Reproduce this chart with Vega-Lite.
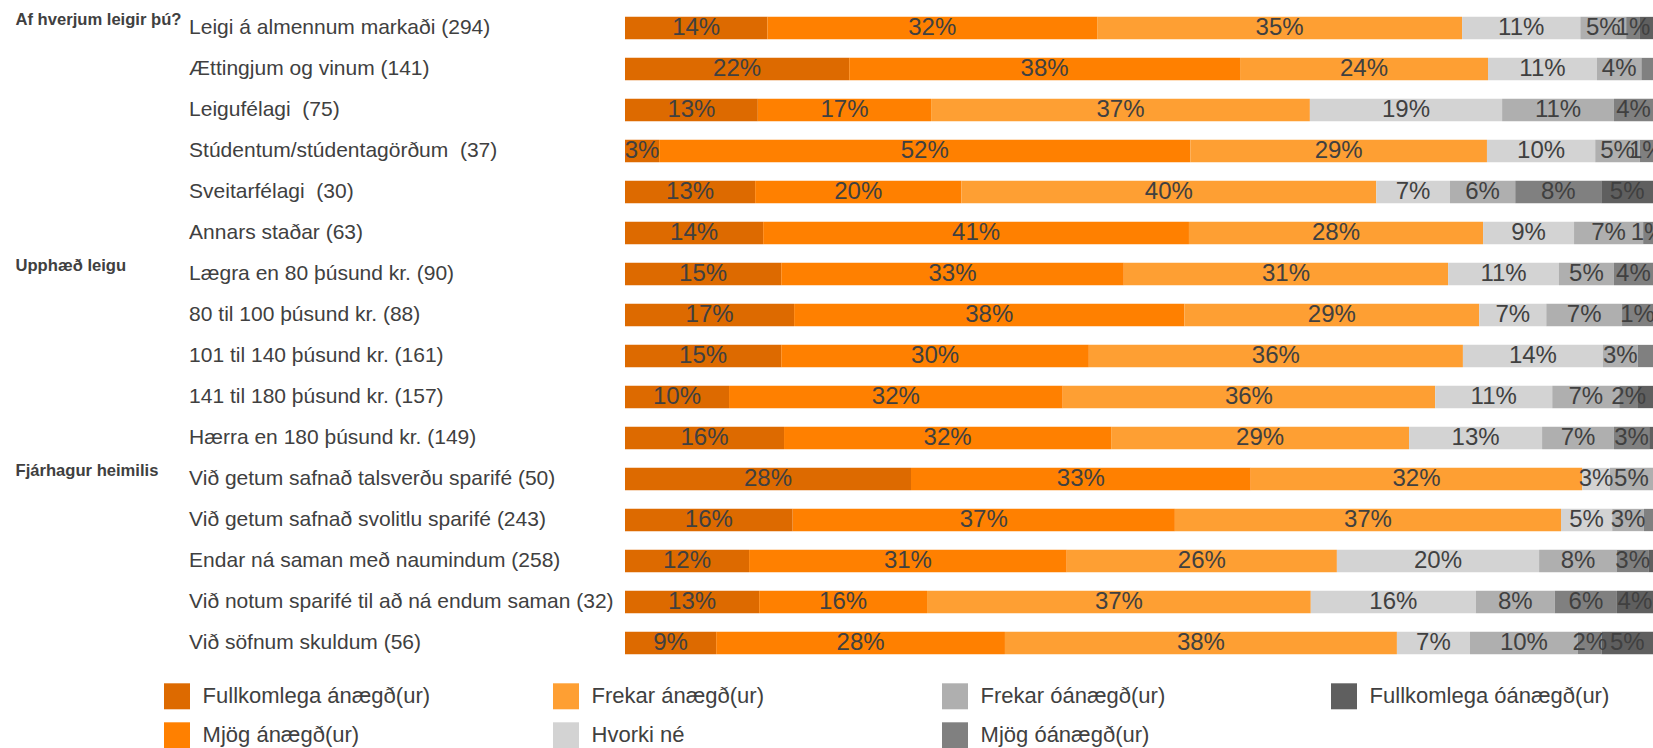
{
  "$schema": "https://vega.github.io/schema/vega-lite/v6.json",
  "width": 1028,
  "height": 656,
  "autosize": {"type": "none"},
  "padding": {"left": 625, "top": 7.5, "right": 0, "bottom": 84.5},
  "background": "white",
  "config": {"view": {"stroke": null}, "font": "Liberation Sans"},
  "data": {"values": [
    {"r": "Leigi á almennum markaði (294)", "c": "Fullkomlega ánægð(ur)", "o": 1, "v": 13.85, "t": "14%"},
    {"r": "Leigi á almennum markaði (294)", "c": "Mjög ánægð(ur)", "o": 2, "v": 32.08, "t": "32%"},
    {"r": "Leigi á almennum markaði (294)", "c": "Frekar ánægð(ur)", "o": 3, "v": 35.5, "t": "35%"},
    {"r": "Leigi á almennum markaði (294)", "c": "Hvorki né", "o": 4, "v": 11.5, "t": "11%"},
    {"r": "Leigi á almennum markaði (294)", "c": "Frekar óánægð(ur)", "o": 5, "v": 4.46, "t": "5%"},
    {"r": "Leigi á almennum markaði (294)", "c": "Mjög óánægð(ur)", "o": 6, "v": 1.34, "t": "1%"},
    {"r": "Leigi á almennum markaði (294)", "c": "Fullkomlega óánægð(ur)", "o": 7, "v": 1.27, "t": ""},

    {"r": "Ættingjum og vinum (141)", "c": "Fullkomlega ánægð(ur)", "o": 1, "v": 21.81, "t": "22%"},
    {"r": "Ættingjum og vinum (141)", "c": "Mjög ánægð(ur)", "o": 2, "v": 38.02, "t": "38%"},
    {"r": "Ættingjum og vinum (141)", "c": "Frekar ánægð(ur)", "o": 3, "v": 24.12, "t": "24%"},
    {"r": "Ættingjum og vinum (141)", "c": "Hvorki né", "o": 4, "v": 10.6, "t": "11%"},
    {"r": "Ættingjum og vinum (141)", "c": "Frekar óánægð(ur)", "o": 5, "v": 4.32, "t": "4%"},
    {"r": "Ættingjum og vinum (141)", "c": "Mjög óánægð(ur)", "o": 6, "v": 1.13, "t": ""},

    {"r": "Leigufélagi \u00a0(75)", "c": "Fullkomlega ánægð(ur)", "o": 1, "v": 12.92, "t": "13%"},
    {"r": "Leigufélagi \u00a0(75)", "c": "Mjög ánægð(ur)", "o": 2, "v": 16.86, "t": "17%"},
    {"r": "Leigufélagi \u00a0(75)", "c": "Frekar ánægð(ur)", "o": 3, "v": 36.85, "t": "37%"},
    {"r": "Leigufélagi \u00a0(75)", "c": "Hvorki né", "o": 4, "v": 18.7, "t": "19%"},
    {"r": "Leigufélagi \u00a0(75)", "c": "Frekar óánægð(ur)", "o": 5, "v": 10.88, "t": "11%"},
    {"r": "Leigufélagi \u00a0(75)", "c": "Mjög óánægð(ur)", "o": 6, "v": 3.8, "t": "4%"},

    {"r": "Stúdentum/stúdentagörðum \u00a0(37)", "c": "Fullkomlega ánægð(ur)", "o": 1, "v": 3.32, "t": "3%"},
    {"r": "Stúdentum/stúdentagörðum \u00a0(37)", "c": "Mjög ánægð(ur)", "o": 2, "v": 51.67, "t": "52%"},
    {"r": "Stúdentum/stúdentagörðum \u00a0(37)", "c": "Frekar ánægð(ur)", "o": 3, "v": 28.85, "t": "29%"},
    {"r": "Stúdentum/stúdentagörðum \u00a0(37)", "c": "Hvorki né", "o": 4, "v": 10.53, "t": "10%"},
    {"r": "Stúdentum/stúdentagörðum \u00a0(37)", "c": "Frekar óánægð(ur)", "o": 5, "v": 4.33, "t": "5%"},
    {"r": "Stúdentum/stúdentagörðum \u00a0(37)", "c": "Mjög óánægð(ur)", "o": 6, "v": 1.29, "t": "1%"},

    {"r": "Sveitarfélagi \u00a0(30)", "c": "Fullkomlega ánægð(ur)", "o": 1, "v": 12.66, "t": "13%"},
    {"r": "Sveitarfélagi \u00a0(30)", "c": "Mjög ánægð(ur)", "o": 2, "v": 20.06, "t": "20%"},
    {"r": "Sveitarfélagi \u00a0(30)", "c": "Frekar ánægð(ur)", "o": 3, "v": 40.36, "t": "40%"},
    {"r": "Sveitarfélagi \u00a0(30)", "c": "Hvorki né", "o": 4, "v": 7.17, "t": "7%"},
    {"r": "Sveitarfélagi \u00a0(30)", "c": "Frekar óánægð(ur)", "o": 5, "v": 6.35, "t": "6%"},
    {"r": "Sveitarfélagi \u00a0(30)", "c": "Mjög óánægð(ur)", "o": 6, "v": 8.37, "t": "8%"},
    {"r": "Sveitarfélagi \u00a0(30)", "c": "Fullkomlega óánægð(ur)", "o": 7, "v": 5.03, "t": "5%"},

    {"r": "Annars staðar (63)", "c": "Fullkomlega ánægð(ur)", "o": 1, "v": 13.44, "t": "14%"},
    {"r": "Annars staðar (63)", "c": "Mjög ánægð(ur)", "o": 2, "v": 41.42, "t": "41%"},
    {"r": "Annars staðar (63)", "c": "Frekar ánægð(ur)", "o": 3, "v": 28.61, "t": "28%"},
    {"r": "Annars staðar (63)", "c": "Hvorki né", "o": 4, "v": 8.85, "t": "9%"},
    {"r": "Annars staðar (63)", "c": "Frekar óánægð(ur)", "o": 5, "v": 6.72, "t": "7%"},
    {"r": "Annars staðar (63)", "c": "Mjög óánægð(ur)", "o": 6, "v": 0.96, "t": "1%"},

    {"r": "Lægra en 80 þúsund kr. (90)", "c": "Fullkomlega ánægð(ur)", "o": 1, "v": 15.2, "t": "15%"},
    {"r": "Lægra en 80 þúsund kr. (90)", "c": "Mjög ánægð(ur)", "o": 2, "v": 33.32, "t": "33%"},
    {"r": "Lægra en 80 þúsund kr. (90)", "c": "Frekar ánægð(ur)", "o": 3, "v": 31.55, "t": "31%"},
    {"r": "Lægra en 80 þúsund kr. (90)", "c": "Hvorki né", "o": 4, "v": 10.78, "t": "11%"},
    {"r": "Lægra en 80 þúsund kr. (90)", "c": "Frekar óánægð(ur)", "o": 5, "v": 5.35, "t": "5%"},
    {"r": "Lægra en 80 þúsund kr. (90)", "c": "Mjög óánægð(ur)", "o": 6, "v": 3.8, "t": "4%"},

    {"r": "80 til 100 þúsund kr. (88)", "c": "Fullkomlega ánægð(ur)", "o": 1, "v": 16.45, "t": "17%"},
    {"r": "80 til 100 þúsund kr. (88)", "c": "Mjög ánægð(ur)", "o": 2, "v": 37.96, "t": "38%"},
    {"r": "80 til 100 þúsund kr. (88)", "c": "Frekar ánægð(ur)", "o": 3, "v": 28.69, "t": "29%"},
    {"r": "80 til 100 þúsund kr. (88)", "c": "Hvorki né", "o": 4, "v": 6.52, "t": "7%"},
    {"r": "80 til 100 þúsund kr. (88)", "c": "Frekar óánægð(ur)", "o": 5, "v": 7.37, "t": "7%"},
    {"r": "80 til 100 þúsund kr. (88)", "c": "Mjög óánægð(ur)", "o": 6, "v": 3.01, "t": "1%"},

    {"r": "101 til 140 þúsund kr. (161)", "c": "Fullkomlega ánægð(ur)", "o": 1, "v": 15.2, "t": "15%"},
    {"r": "101 til 140 þúsund kr. (161)", "c": "Mjög ánægð(ur)", "o": 2, "v": 29.92, "t": "30%"},
    {"r": "101 til 140 þúsund kr. (161)", "c": "Frekar ánægð(ur)", "o": 3, "v": 36.39, "t": "36%"},
    {"r": "101 til 140 þúsund kr. (161)", "c": "Hvorki né", "o": 4, "v": 13.62, "t": "14%"},
    {"r": "101 til 140 þúsund kr. (161)", "c": "Frekar óánægð(ur)", "o": 5, "v": 3.39, "t": "3%"},
    {"r": "101 til 140 þúsund kr. (161)", "c": "Mjög óánægð(ur)", "o": 6, "v": 1.48, "t": ""},

    {"r": "141 til 180 þúsund kr. (157)", "c": "Fullkomlega ánægð(ur)", "o": 1, "v": 10.12, "t": "10%"},
    {"r": "141 til 180 þúsund kr. (157)", "c": "Mjög ánægð(ur)", "o": 2, "v": 32.46, "t": "32%"},
    {"r": "141 til 180 þúsund kr. (157)", "c": "Frekar ánægð(ur)", "o": 3, "v": 36.23, "t": "36%"},
    {"r": "141 til 180 þúsund kr. (157)", "c": "Hvorki né", "o": 4, "v": 11.39, "t": "11%"},
    {"r": "141 til 180 þúsund kr. (157)", "c": "Frekar óánægð(ur)", "o": 5, "v": 6.52, "t": "7%"},
    {"r": "141 til 180 þúsund kr. (157)", "c": "Mjög óánægð(ur)", "o": 6, "v": 1.82, "t": "2%"},
    {"r": "141 til 180 þúsund kr. (157)", "c": "Fullkomlega óánægð(ur)", "o": 7, "v": 1.46, "t": ""},

    {"r": "Hærra en 180 þúsund kr. (149)", "c": "Fullkomlega ánægð(ur)", "o": 1, "v": 15.47, "t": "16%"},
    {"r": "Hærra en 180 þúsund kr. (149)", "c": "Mjög ánægð(ur)", "o": 2, "v": 31.82, "t": "32%"},
    {"r": "Hærra en 180 þúsund kr. (149)", "c": "Frekar ánægð(ur)", "o": 3, "v": 28.98, "t": "29%"},
    {"r": "Hærra en 180 þúsund kr. (149)", "c": "Hvorki né", "o": 4, "v": 12.94, "t": "13%"},
    {"r": "Hærra en 180 þúsund kr. (149)", "c": "Frekar óánægð(ur)", "o": 5, "v": 6.99, "t": "7%"},
    {"r": "Hærra en 180 þúsund kr. (149)", "c": "Mjög óánægð(ur)", "o": 6, "v": 3.43, "t": "3%"},
    {"r": "Hærra en 180 þúsund kr. (149)", "c": "Fullkomlega óánægð(ur)", "o": 7, "v": 0.37, "t": ""},

    {"r": "Við getum safnað talsverðu sparifé (50)", "c": "Fullkomlega ánægð(ur)", "o": 1, "v": 27.82, "t": "28%"},
    {"r": "Við getum safnað talsverðu sparifé (50)", "c": "Mjög ánægð(ur)", "o": 2, "v": 33.05, "t": "33%"},
    {"r": "Við getum safnað talsverðu sparifé (50)", "c": "Frekar ánægð(ur)", "o": 3, "v": 32.24, "t": "32%"},
    {"r": "Við getum safnað talsverðu sparifé (50)", "c": "Hvorki né", "o": 4, "v": 2.7, "t": "3%"},
    {"r": "Við getum safnað talsverðu sparifé (50)", "c": "Frekar óánægð(ur)", "o": 5, "v": 4.19, "t": "5%"},

    {"r": "Við getum safnað svolitlu sparifé (243)", "c": "Fullkomlega ánægð(ur)", "o": 1, "v": 16.31, "t": "16%"},
    {"r": "Við getum safnað svolitlu sparifé (243)", "c": "Mjög ánægð(ur)", "o": 2, "v": 37.18, "t": "37%"},
    {"r": "Við getum safnað svolitlu sparifé (243)", "c": "Frekar ánægð(ur)", "o": 3, "v": 37.56, "t": "37%"},
    {"r": "Við getum safnað svolitlu sparifé (243)", "c": "Hvorki né", "o": 4, "v": 4.98, "t": "5%"},
    {"r": "Við getum safnað svolitlu sparifé (243)", "c": "Frekar óánægð(ur)", "o": 5, "v": 3.08, "t": "3%"},
    {"r": "Við getum safnað svolitlu sparifé (243)", "c": "Mjög óánægð(ur)", "o": 6, "v": 0.89, "t": ""},

    {"r": "Endar ná saman með naumindum (258)", "c": "Fullkomlega ánægð(ur)", "o": 1, "v": 12.07, "t": "12%"},
    {"r": "Endar ná saman með naumindum (258)", "c": "Mjög ánægð(ur)", "o": 2, "v": 30.9, "t": "31%"},
    {"r": "Endar ná saman með naumindum (258)", "c": "Frekar ánægð(ur)", "o": 3, "v": 26.28, "t": "26%"},
    {"r": "Endar ná saman með naumindum (258)", "c": "Hvorki né", "o": 4, "v": 19.67, "t": "20%"},
    {"r": "Endar ná saman með naumindum (258)", "c": "Frekar óánægð(ur)", "o": 5, "v": 7.58, "t": "8%"},
    {"r": "Endar ná saman með naumindum (258)", "c": "Mjög óánægð(ur)", "o": 6, "v": 3.05, "t": "3%"},
    {"r": "Endar ná saman með naumindum (258)", "c": "Fullkomlega óánægð(ur)", "o": 7, "v": 0.45, "t": ""},

    {"r": "Við notum sparifé til að ná endum saman (32)", "c": "Fullkomlega ánægð(ur)", "o": 1, "v": 13.05, "t": "13%"},
    {"r": "Við notum sparifé til að ná endum saman (32)", "c": "Mjög ánægð(ur)", "o": 2, "v": 16.33, "t": "16%"},
    {"r": "Við notum sparifé til að ná endum saman (32)", "c": "Frekar ánægð(ur)", "o": 3, "v": 37.33, "t": "37%"},
    {"r": "Við notum sparifé til að ná endum saman (32)", "c": "Hvorki né", "o": 4, "v": 16.06, "t": "16%"},
    {"r": "Við notum sparifé til að ná endum saman (32)", "c": "Frekar óánægð(ur)", "o": 5, "v": 7.68, "t": "8%"},
    {"r": "Við notum sparifé til að ná endum saman (32)", "c": "Mjög óánægð(ur)", "o": 6, "v": 6.04, "t": "6%"},
    {"r": "Við notum sparifé til að ná endum saman (32)", "c": "Fullkomlega óánægð(ur)", "o": 7, "v": 3.51, "t": "4%"},

    {"r": "Við söfnum skuldum (56)", "c": "Fullkomlega ánægð(ur)", "o": 1, "v": 8.87, "t": "9%"},
    {"r": "Við söfnum skuldum (56)", "c": "Mjög ánægð(ur)", "o": 2, "v": 28.09, "t": "28%"},
    {"r": "Við söfnum skuldum (56)", "c": "Frekar ánægð(ur)", "o": 3, "v": 38.13, "t": "38%"},
    {"r": "Við söfnum skuldum (56)", "c": "Hvorki né", "o": 4, "v": 7.1, "t": "7%"},
    {"r": "Við söfnum skuldum (56)", "c": "Frekar óánægð(ur)", "o": 5, "v": 10.51, "t": "10%"},
    {"r": "Við söfnum skuldum (56)", "c": "Mjög óánægð(ur)", "o": 6, "v": 2.3, "t": "2%"},
    {"r": "Við söfnum skuldum (56)", "c": "Fullkomlega óánægð(ur)", "o": 7, "v": 5.0, "t": "5%"}
  ]},
  "layer": [
    {
      "mark": {"type": "bar"},
      "encoding": {
        "y": {
          "field": "r", "type": "nominal", "sort": null,
          "scale": {"paddingInner": 0.456, "paddingOuter": 0.228},
          "axis": {
            "orient": "left", "title": null, "domain": false, "ticks": false, "tickSize": 0, "grid": false,
            "labelPadding": 436.4, "labelAlign": "left", "labelBaseline": "middle",
            "labelFontSize": 21, "labelColor": "#404040", "labelFont": "Liberation Sans", "labelLimit": 1000
          }
        },
        "x": {
          "field": "v", "type": "quantitative", "stack": "normalize", "axis": null,
          "scale": {"domain": [0, 1], "nice": false}
        },
        "color": {
          "field": "c", "type": "nominal",
          "scale": {
            "domain": ["Fullkomlega ánægð(ur)", "Frekar ánægð(ur)", "Frekar óánægð(ur)", "Fullkomlega óánægð(ur)", "Mjög ánægð(ur)", "Hvorki né", "Mjög óánægð(ur)"],
            "range": ["#DD6A00", "#FE9F33", "#AFAFAF", "#5F5F5F", "#FF8000", "#D3D3D3", "#808080"]
          },
          "legend": {
            "orient": "none", "legendX": -461, "legendY": 675.8, "direction": "horizontal",
            "columns": 4, "gridAlign": "all", "columnPadding": 110, "rowPadding": 13,
            "symbolType": "square", "symbolSize": 676, "symbolStrokeWidth": 0, "symbolOpacity": 1,
            "labelFontSize": 22, "labelColor": "#404040", "labelFont": "Liberation Sans",
            "labelOffset": 12.6, "labelLimit": 600, "title": null, "padding": 0
          }
        },
        "order": {"field": "o", "type": "quantitative"}
      }
    },
    {
      "mark": {"type": "text", "fontSize": 24, "color": "#404040", "baseline": "middle", "align": "center", "font": "Liberation Sans"},
      "encoding": {
        "y": {
          "field": "r", "type": "nominal", "sort": null,
          "axis": {
            "orient": "left", "title": null, "domain": false, "ticks": false, "tickSize": 0, "grid": false,
            "labelPadding": 610, "labelAlign": "left", "labelBaseline": "middle", "labelOffset": -8.5,
            "labelFontSize": 16.6, "labelFontWeight": "bold", "labelColor": "#404040", "labelFont": "Liberation Sans", "labelLimit": 1000,
            "labelExpr": "datum.value == 'Leigi á almennum markaði (294)' ? 'Af hverjum leigir þú?' : datum.value == 'Lægra en 80 þúsund kr. (90)' ? 'Upphæð leigu' : datum.value == 'Við getum safnað talsverðu sparifé (50)' ? 'Fjárhagur heimilis' : ''"
          }
        },
        "x": {"field": "v", "type": "quantitative", "stack": "normalize", "bandPosition": 0.5},
        "detail": {"field": "c", "type": "nominal"},
        "text": {"field": "t", "type": "nominal"},
        "order": {"field": "o", "type": "quantitative"}
      }
    }
  ],
  "resolve": {"axis": {"y": "independent"}}
}
